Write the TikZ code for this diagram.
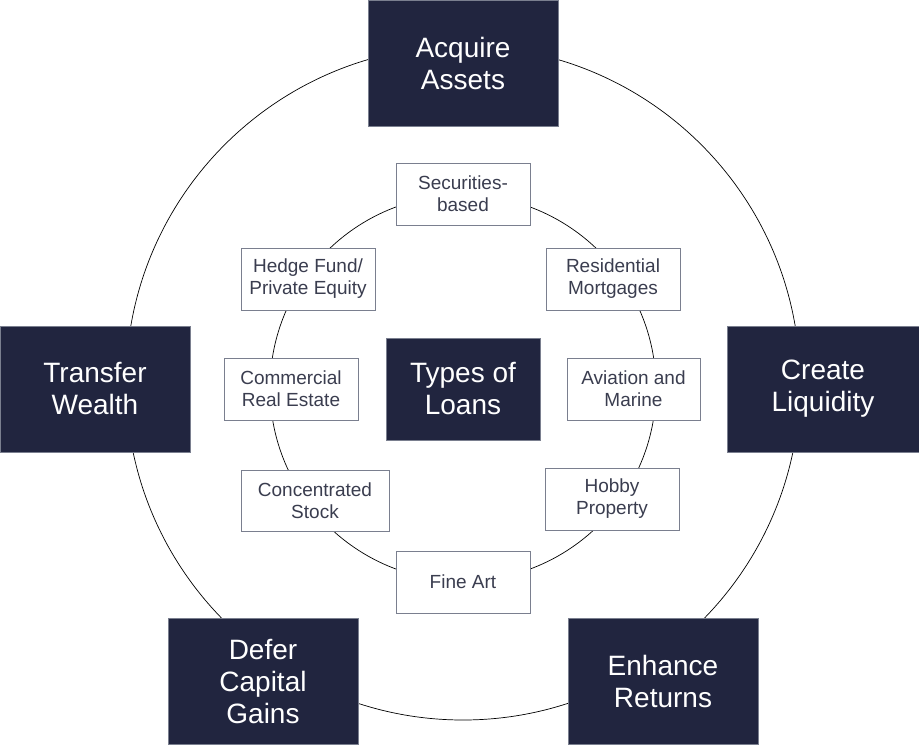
\documentclass[tikz,border=0pt]{standalone}
\usepackage{fontspec}
\setmainfont{Liberation Sans}
\definecolor{navy}{HTML}{21253F}
\definecolor{edgegray}{HTML}{7A7F8F}
\definecolor{txtgray}{HTML}{3A3D4F}
\begin{document}
\begin{tikzpicture}[x=1pt,y=-1pt,
  bigbox/.style={draw=edgegray, line width=0.8pt, fill=navy, text=white, align=center,
    minimum width=190pt, minimum height=126pt, inner sep=0pt,
    font=\fontsize{28}{32}\selectfont},
  smallbox/.style={draw=edgegray, line width=0.8pt, fill=white, text=txtgray, align=center,
    minimum width=134pt, minimum height=62pt, inner sep=0pt,
    font=\fontsize{19}{22}\selectfont},
  ring/.style={draw=black, line width=0.7pt}]
\useasboundingbox (0,0) rectangle (919,747);
\coordinate (oc) at (463,383);
\coordinate (ic) at (463,388);
\draw[ring] (oc) circle[radius=337];
\draw[ring] (ic) circle[radius=193];
% outer boxes
\node[bigbox] (acq) at (463,63) {Acquire\\Assets};
\node[bigbox] (tra) at (95,389) {Transfer\\Wealth};
\node[bigbox, minimum width=192pt] (cre) at (823,389) {Create\\Liquidity};
\node[bigbox] (def) at (263,681.5) {Defer\\Capital\\Gains};
\node[bigbox] (enh) at (663,681.5) {Enhance\\Returns};
% center
\node[bigbox, minimum width=154pt, minimum height=102pt] (types) at (463,389) {Types of\\Loans};
% inner boxes
\node[smallbox] (sec) at (463,194) {Securities-\\based};
\node[smallbox] (hed) at (308,279) {Hedge Fund/\\Private Equity};
\node[smallbox] (res) at (613,279) {Residential\\Mortgages};
\node[smallbox] (com) at (291,389) {Commercial\\Real Estate};
\node[smallbox, minimum width=133pt] (avi) at (633.5,389) {Aviation and\\Marine};
\node[smallbox, minimum width=148pt, minimum height=61pt] (con) at (315,500.5) {Concentrated\\Stock};
\node[smallbox] (hob) at (612,499) {Hobby\\Property};
\node[smallbox] (art) at (463,582) {Fine Art};
\end{tikzpicture}
\end{document}
